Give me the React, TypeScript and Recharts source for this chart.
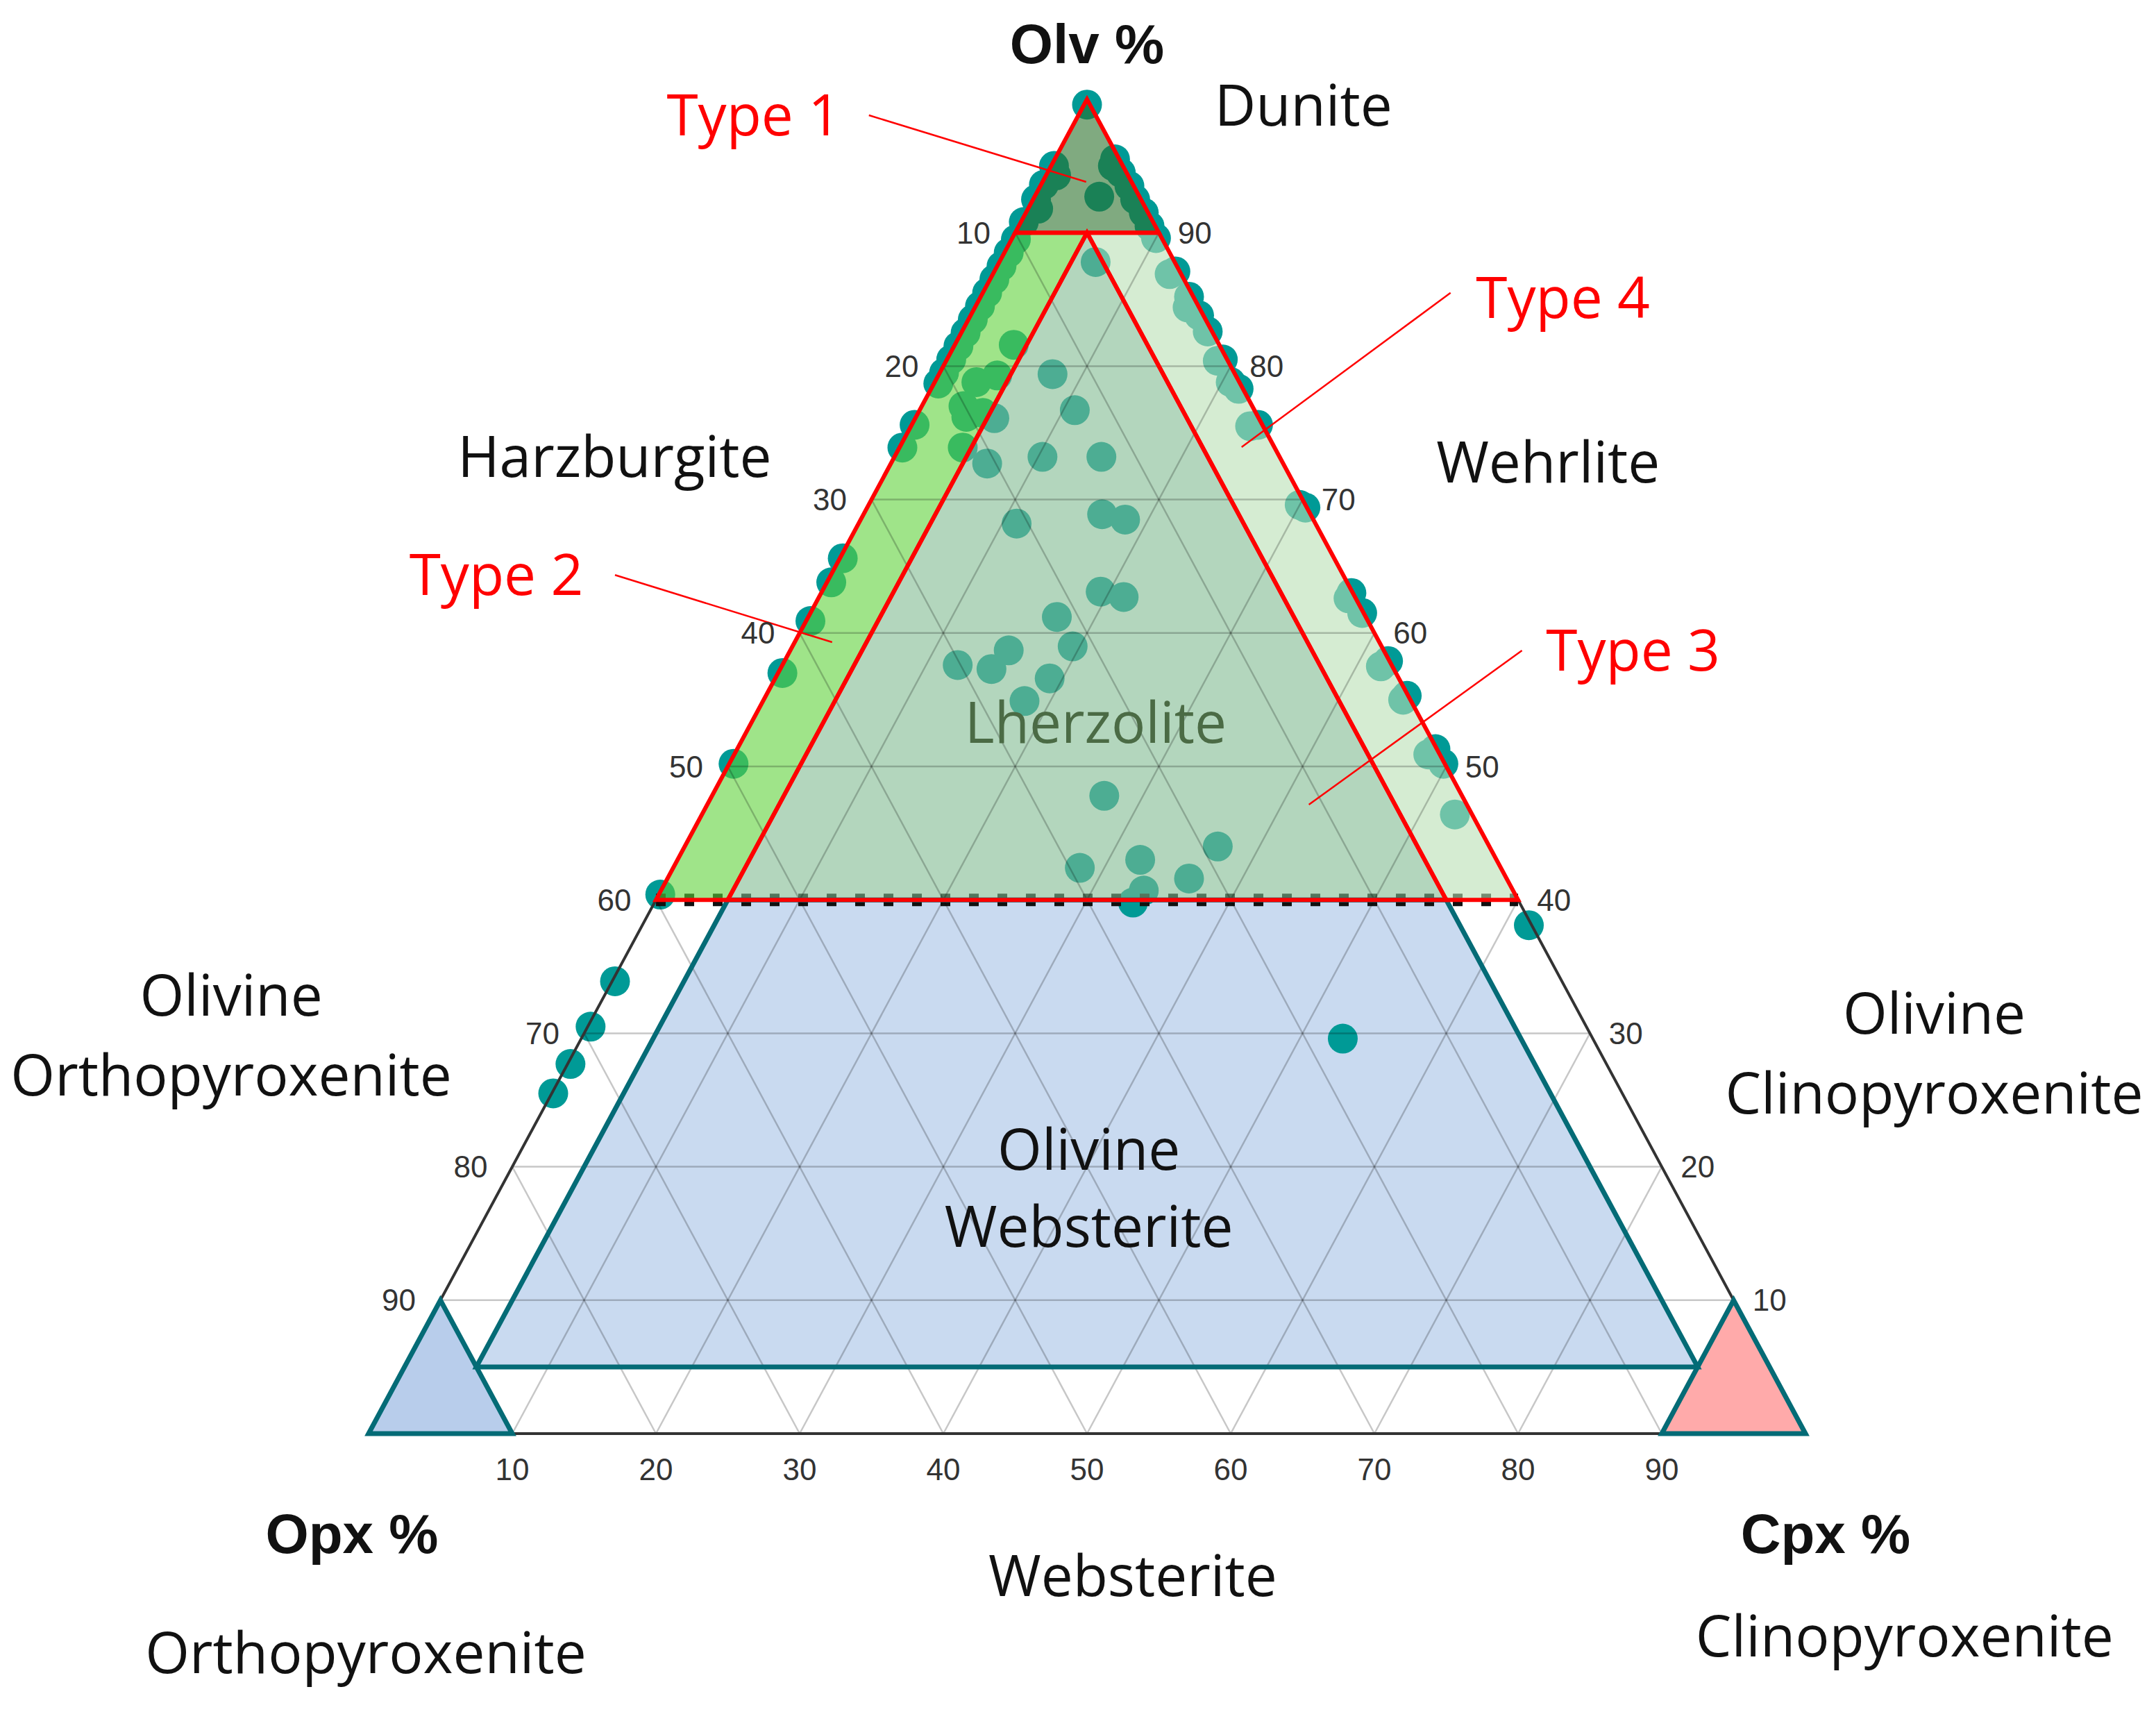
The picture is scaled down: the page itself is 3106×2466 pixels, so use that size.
import { ScatterChart, Scatter, XAxis, YAxis, ReferenceDot } from 'recharts';

// composition of each sample: [Olv %, Opx %, Cpx %]
type Comp = [number, number, number];

const duniteSamples: Comp[] = [
  [99.6, 0.2, 0.2], [95.0, 4.8, 0.2], [94.3, 5.0, 0.7], [93.6, 6.2, 0.2], [92.5, 7.3, 0.2],
  [91.8, 7.5, 0.7], [90.8, 9.0, 0.2], [92.7, 2.8, 4.5], [95.0, 0.7, 4.3], [95.5, 0.3, 4.2],
  [94.5, 0.4, 5.1], [93.5, 0.3, 6.2], [92.5, 0.4, 7.1], [91.5, 0.3, 8.2], [90.5, 0.4, 9.1],
];

const harzburgiteSamples: Comp[] = [
  [89.5, 10.2, 0.3], [88.5, 11.2, 0.3], [87.5, 12.2, 0.3], [86.5, 13.2, 0.3], [85.5, 14.2, 0.3],
  [84.5, 15.2, 0.3], [83.5, 16.2, 0.3], [82.5, 17.2, 0.3], [81.5, 18.2, 0.3], [80.5, 19.2, 0.3],
  [79.5, 20.2, 0.3], [78.7, 21.0, 0.3], [75.6, 24.2, 0.2], [73.9, 25.9, 0.2], [65.6, 34.2, 0.2],
  [63.8, 35.9, 0.3], [60.9, 38.8, 0.3], [57.0, 42.7, 0.3], [50.2, 49.5, 0.3], [40.4, 59.5, 0.1],
  [81.6, 14.3, 4.1], [79.3, 16.6, 4.1], [78.8, 18.3, 2.9], [77.0, 20.1, 2.9], [76.5, 19.0, 4.5],
  [73.9, 21.7, 4.4], [76.2, 20.3, 3.5],
];

const lherzoliteSamples: Comp[] = [
  [87.8, 5.5, 6.7], [79.4, 12.7, 7.9], [76.7, 12.5, 10.8], [76.1, 18.4, 5.5], [72.7, 20.6, 6.7],
  [73.2, 16.5, 10.3], [73.2, 12.4, 14.4], [68.2, 20.8, 11.0], [68.9, 14.5, 16.6], [68.5, 13.1, 18.4],
  [63.1, 17.5, 19.4], [62.7, 16.1, 21.2], [61.2, 21.5, 17.3], [59.0, 21.5, 19.5], [58.7, 26.1, 15.2],
  [57.6, 30.2, 12.2], [57.3, 28.0, 14.7], [56.6, 24.3, 19.1], [54.9, 26.9, 18.2], [47.8, 24.9, 27.3],
  [44.0, 18.9, 37.1], [43.0, 24.8, 32.2], [42.4, 29.3, 28.3], [41.6, 22.1, 36.3], [40.7, 25.7, 33.6],
  [39.8, 26.9, 33.3],
];

const wehrliteSamples: Comp[] = [
  [89.6, 0.4, 10.0], [87.1, 0.3, 12.6], [86.9, 0.8, 12.3], [85.2, 0.3, 14.5], [84.4, 0.8, 14.8],
  [83.8, 0.3, 15.9], [82.6, 0.3, 17.1], [80.5, 0.3, 19.2], [80.4, 0.7, 18.9], [78.8, 0.6, 20.6],
  [78.3, 0.3, 21.4], [75.6, 0.3, 24.1], [75.5, 0.9, 23.6], [69.6, 0.4, 30.0], [69.4, 0.1, 30.5],
  [63.0, 0.1, 36.9], [62.6, 0.5, 36.9], [61.5, 0.1, 38.4], [57.9, 0.1, 42.0], [57.5, 0.8, 41.7],
  [55.3, 0.1, 44.6], [55.0, 0.5, 44.5], [51.3, 0.1, 48.6], [50.9, 0.8, 48.3], [50.2, 0.1, 49.7],
  [46.4, 1.2, 52.4],
];

const pyroxeniteSamples: Comp[] = [
  [38.1, 0.2, 61.7], [33.9, 65.9, 0.2], [30.5, 69.3, 0.2], [27.7, 72.1, 0.2], [25.5, 74.4, 0.1],
  [29.6, 17.4, 53.0],
];

// classification fields (IUGS ultramafic)
const fieldDunite: Comp[] = [[100, 0, 0], [90, 10, 0], [90, 0, 10]];
const fieldHarzburgite: Comp[] = [[90, 10, 0], [90, 5, 5], [40, 55, 5], [40, 60, 0]];
const fieldLherzolite: Comp[] = [[90, 5, 5], [40, 55, 5], [40, 5, 55]];
const fieldWehrlite: Comp[] = [[90, 5, 5], [90, 0, 10], [40, 0, 60], [40, 5, 55]];
const fieldOlWebsterite: Comp[] = [[40, 55, 5], [40, 5, 55], [5, 5, 90], [5, 90, 5]];
const fieldOrthopyroxenite: Comp[] = [[0, 100, 0], [10, 90, 0], [0, 90, 10]];
const fieldClinopyroxenite: Comp[] = [[0, 0, 100], [10, 0, 90], [0, 10, 90]];
const outline: Comp[] = [[100, 0, 0], [0, 100, 0], [0, 0, 100]];
const olv40Line: Comp[] = [[40, 60, 0], [40, 0, 60]];

const TICKS = [10, 20, 30, 40, 50, 60, 70, 80, 90];

const regionLabels = [
  { text: 'Dunite', x: 65.06, y: 99.56 },
  { text: 'Harzburgite', x: 17.12, y: 73.2 },
  { text: 'Wehrlite', x: 82.09, y: 72.8 },
  { text: 'Olivine', x: -9.56, y: 32.83 },
  { text: 'Orthopyroxenite', x: -9.56, y: 26.85 },
  { text: 'Olivine', x: 108.96, y: 31.48 },
  { text: 'Clinopyroxenite', x: 108.96, y: 25.49 },
  { text: 'Olivine', x: 50.13, y: 21.28 },
  { text: 'Websterite', x: 50.13, y: 15.5 },
  { text: 'Websterite', x: 53.18, y: -10.67 },
  { text: 'Orthopyroxenite', x: -0.19, y: -16.44 },
  { text: 'Clinopyroxenite', x: 106.9, y: -15.19 },
];

const axisTitles = [
  { text: 'Olv %', x: 50, y: 104.2 },
  { text: 'Opx %', x: -1.16, y: -7.49 },
  { text: 'Cpx %', x: 101.4, y: -7.49 },
];

const typeLabels = [
  { text: 'Type 1', x: 26.8, y: 98.83, from: [34.82, 98.8], to: [49.94, 93.81] },
  { text: 'Type 2', x: 8.89, y: 64.36, from: [17.15, 64.35], to: [32.26, 59.31] },
  { text: 'Type 4', x: 83.12, y: 85.1, from: [75.3, 85.5], to: [60.76, 73.93] },
  { text: 'Type 3', x: 88.0, y: 58.7, from: [80.27, 58.69], to: [65.44, 47.14] },
];

const toXY = ([olv, , cpx]: Comp) => ({ x: cpx + olv / 2, y: olv });

const W = 3106;
const H = 2466;
const SANS = 'Liberation Sans, Arial, sans-serif';
const LABEL_FONT = 'Open Sans, sans-serif';

const noShape = () => <g />;
const sampleDot = (p: any) => <circle cx={p.cx} cy={p.cy} r={21.5} fill="#009a96" />;

function polygon(key: string, verts: Comp[], line: any) {
  return (
    <Scatter
      key={key}
      data={verts.map(toXY)}
      shape={noShape}
      line={line}
      lineType="joint"
      lineJointType="linearClosed"
      isAnimationActive={false}
    />
  );
}

function segment(key: string, pts: { x: number; y: number }[], line: any) {
  return (
    <Scatter
      key={key}
      data={pts}
      shape={noShape}
      line={line}
      lineType="joint"
      lineJointType="linear"
      isAnimationActive={false}
    />
  );
}

function text(key: string, x: number, y: number, value: string, style: any) {
  return (
    <ReferenceDot
      key={key}
      x={x}
      y={y}
      r={0}
      fill="none"
      stroke="none"
      ifOverflow="visible"
      label={{ value, position: 'center', ...style }}
    />
  );
}

const gridLine = { stroke: '#000', strokeOpacity: 0.22, strokeWidth: 2.5 };
const redBorder = { fill: 'none', stroke: '#ff0000', strokeWidth: 6, strokeLinejoin: 'miter' };
const tealBorder = { fill: 'none', stroke: '#046b76', strokeWidth: 7, strokeLinejoin: 'miter' };
const tickStyle = { fontSize: 44, fill: '#333', fontFamily: SANS };
const regionStyle = { fontSize: 82, fill: '#111', fontFamily: LABEL_FONT };

export default function App() {
  const samples = [
    ...duniteSamples,
    ...harzburgiteSamples,
    ...lherzoliteSamples,
    ...wehrliteSamples,
    ...pyroxeniteSamples,
  ].map(toXY);

  return (
    <div style={{ position: 'absolute', left: 0, top: 0, width: W, height: H, background: '#fff' }}>
      <ScatterChart width={W} height={H} margin={{ top: 143, right: 505, bottom: 401, left: 531 }}>
        <XAxis type="number" dataKey="x" domain={[0, 100]} hide />
        <YAxis type="number" dataKey="y" domain={[0, 100]} hide />

        {polygon('f-web', fieldOlWebsterite, { fill: '#a5c1e6', fillOpacity: 0.6, stroke: 'none' })}
        {polygon('f-opx', fieldOrthopyroxenite, { fill: '#89acde', fillOpacity: 0.6, stroke: 'none' })}
        {polygon('f-cpx', fieldClinopyroxenite, { fill: '#ff7171', fillOpacity: 0.6, stroke: 'none' })}

        <Scatter data={samples} shape={sampleDot} isAnimationActive={false} />

        {segment('olv40', olv40Line.map(toXY), { stroke: '#111', strokeWidth: 18, strokeDasharray: '14 27' })}

        {polygon('f-dun', fieldDunite, { fill: '#2b712b', fillOpacity: 0.6, stroke: 'none' })}
        {polygon('f-hz', fieldHarzburgite, { fill: '#5fd23a', fillOpacity: 0.6, stroke: 'none' })}
        {polygon('f-lz', fieldLherzolite, { fill: '#80bb91', fillOpacity: 0.6, stroke: 'none' })}
        {polygon('f-wh', fieldWehrlite, { fill: '#b9dfb4', fillOpacity: 0.6, stroke: 'none' })}

        {TICKS.map((k) => segment(`g-olv${k}`, [toXY([k, 100 - k, 0]), toXY([k, 0, 100 - k])], gridLine))}
        {TICKS.map((k) => segment(`g-cpx${k}`, [toXY([0, 100 - k, k]), toXY([100 - k, 0, k])], gridLine))}
        {TICKS.map((k) => segment(`g-opx${k}`, [toXY([0, k, 100 - k]), toXY([100 - k, k, 0])], gridLine))}

        {polygon('outline', outline, { fill: 'none', stroke: '#333', strokeWidth: 4 })}

        {polygon('b-web', fieldOlWebsterite, tealBorder)}
        {polygon('b-opx', fieldOrthopyroxenite, tealBorder)}
        {polygon('b-cpx', fieldClinopyroxenite, tealBorder)}
        {polygon('b-dun', fieldDunite, redBorder)}
        {polygon('b-hz', fieldHarzburgite, redBorder)}
        {polygon('b-lz', fieldLherzolite, redBorder)}
        {polygon('b-wh', fieldWehrlite, redBorder)}

        {typeLabels.map((t) =>
          segment(`lead-${t.text}`, [{ x: t.from[0], y: t.from[1] }, { x: t.to[0], y: t.to[1] }], {
            stroke: '#ff0000',
            strokeWidth: 2.5,
          }),
        )}

        {TICKS.map((v) => text(`tl${v}`, toXY([100 - v, v, 0]).x - 2.9, 100 - v, String(v), tickStyle))}
        {TICKS.map((v) => text(`tr${v}`, toXY([v, 0, 100 - v]).x + 2.5, v, String(v), tickStyle))}
        {TICKS.map((v) => text(`tb${v}`, v, -2.65, String(v), tickStyle))}

        {axisTitles.map((t) =>
          text(`ax-${t.text}`, t.x, t.y, t.text, { fontSize: 80, fontWeight: 'bold', fill: '#111', fontFamily: SANS }),
        )}
        {regionLabels.map((t, i) => text(`rg-${i}`, t.x, t.y, t.text, regionStyle))}
        {text('lherz', 50.6, 53.3, 'Lherzolite', { ...regionStyle, fill: '#4b6b45' })}
        {typeLabels.map((t) => text(`ty-${t.text}`, t.x, t.y, t.text, { ...regionStyle, fill: '#ff0000' }))}
      </ScatterChart>
    </div>
  );
}
